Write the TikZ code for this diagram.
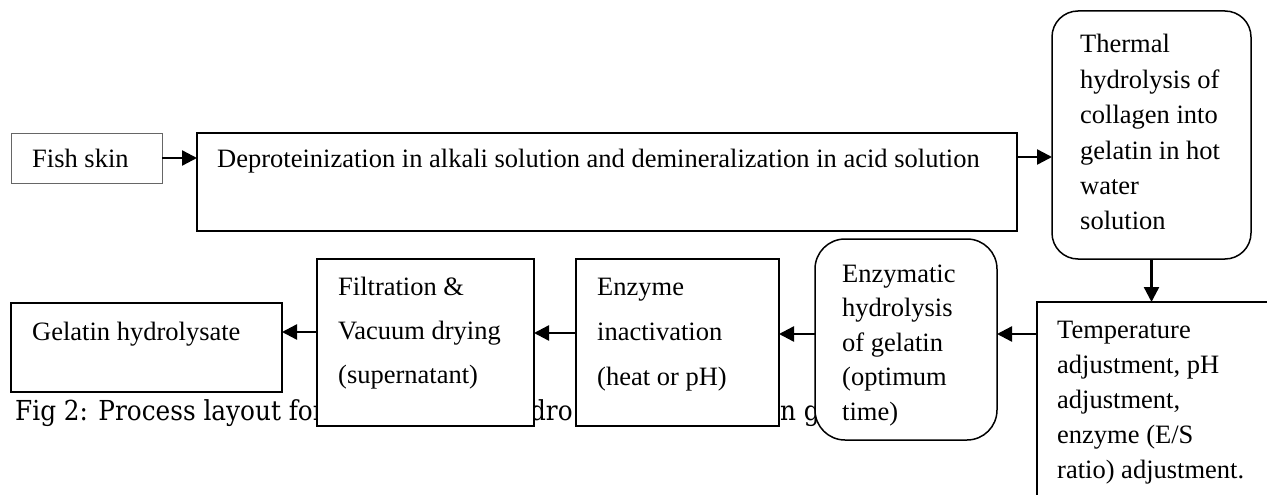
\documentclass[tikz,border=0pt]{standalone}
\usepackage{fontspec}
\setmainfont{Liberation Serif}
\newfontfamily\capfont{DejaVu Serif Condensed}
\usetikzlibrary{arrows.meta}
\begin{document}
\begin{tikzpicture}[x=1pt,y=-1pt,
  box/.style={draw, line width=1.5pt, fill=white, inner sep=0pt, outer sep=0pt, anchor=north west},
  rbox/.style={box, rounded corners=26pt},
  arr/.style={line width=2.4pt, -{Triangle[length=15pt,width=15pt]}},
  txt/.style={inner sep=0pt, anchor=base west},
  capt/.style={inner sep=0pt, anchor=base west, font=\capfont\fontsize{27.5}{33}\selectfont}]
\useasboundingbox (0,0) rectangle (1267,495);
\clip (0,0) rectangle (1267,495);
% caption (partly covered by the boxes)
\node[capt] (cap1) at (15,420) {Fig 2: Process layout for};
\node[capt] (cap2) at (500,420) {hydro};
\node[capt] (cap3) at (780,420) {n g};
% boxes
\node[box, draw=black!60, line width=0.8pt, minimum width=151, minimum height=50] (fish) at (11,133) {};
\node[box, minimum width=820, minimum height=98] (depro) at (197,133) {};
\node[rbox, minimum width=199, minimum height=248] (thermal) at (1052,11) {};
\node[box, minimum width=300, minimum height=260] (temp) at (1037,302) {};
\node[rbox, rounded corners=30pt, minimum width=182, minimum height=201] (enzymatic) at (815,239) {};
\node[box, minimum width=203, minimum height=167] (enzyme) at (576,259) {};
\node[box, minimum width=217, minimum height=167] (filt) at (317,259) {};
\node[box, minimum width=271, minimum height=89] (gel) at (11,303) {};
% texts
\node[txt, font=\fontsize{26.5}{35}\selectfont] (fisht) at (32,167) {Fish skin};
\node[txt, font=\fontsize{26.5}{35}\selectfont] (deprot) at (217,167) {Deproteinization in alkali solution and demineralization in acid solution};
\node[txt, font=\fontsize{26.5}{35.4}\selectfont] (thermalt) at (1080,53) {\begin{tabular}[t]{@{}l@{}}Thermal\\hydrolysis of\\collagen into\\gelatin in hot\\water\\solution\end{tabular}};
\node[txt, font=\fontsize{26.5}{35}\selectfont] (tempt) at (1057,338) {\begin{tabular}[t]{@{}l@{}}Temperature\\adjustment, pH\\adjustment,\\enzyme (E/S\\ratio) adjustment.\end{tabular}};
\node[txt, font=\fontsize{26.5}{34.5}\selectfont] (enzymatict) at (842,282) {\begin{tabular}[t]{@{}l@{}}Enzymatic\\hydrolysis\\of gelatin\\(optimum\\time)\end{tabular}};
\node[txt, font=\fontsize{26.5}{45}\selectfont] (enzymet) at (597,295) {\begin{tabular}[t]{@{}l@{}}Enzyme\\inactivation\\(heat or pH)\end{tabular}};
\node[txt, font=\fontsize{26.5}{44}\selectfont] (filtt) at (338,295) {\begin{tabular}[t]{@{}l@{}}Filtration \&\\Vacuum drying\\(supernatant)\end{tabular}};
\node[txt, font=\fontsize{26.5}{35}\selectfont] (gelt) at (32,340) {Gelatin hydrolysate};
% connectors
\draw[arr] (fish.east) -- (depro.west |- fish.east);
\draw[arr] (depro.east |- 0,157) -- (thermal.west |- 0,157);
\draw[arr] (thermal.south) -- (thermal.south |- temp.north);
\draw[arr] (temp.west |- 0,334) -- (enzymatic.east |- 0,334);
\draw[arr] (enzymatic.west |- 0,334) -- (enzyme.east |- 0,334);
\draw[arr] (enzyme.west |- 0,333) -- (filt.east |- 0,333);
\draw[arr] (filt.west |- 0,332) -- (gel.east |- 0,332);
\end{tikzpicture}
\end{document}
